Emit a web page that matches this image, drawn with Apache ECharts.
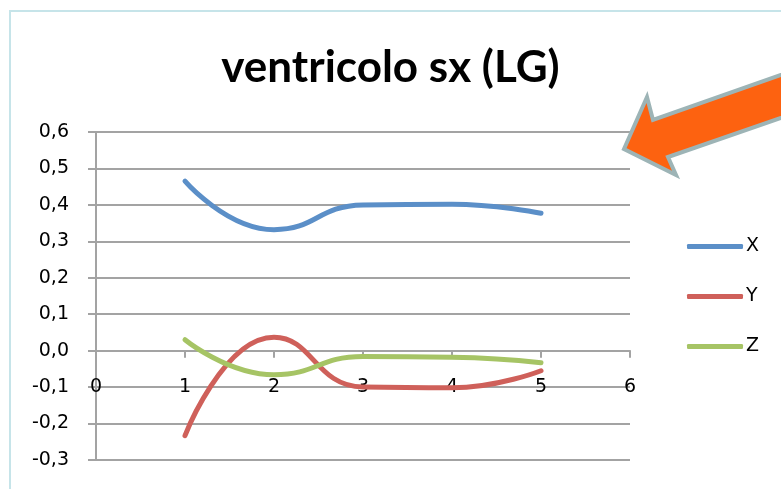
<!DOCTYPE html>
<html>
<head>
<meta charset="utf-8">
<title>ventricolo sx (LG)</title>
<script src="https://cdn.jsdelivr.net/npm/echarts@6/dist/echarts.min.js"></script>
<style>
  html, body { margin: 0; padding: 0; background: #ffffff; }
  #chart { width: 781px; height: 489px; }
</style>
</head>
<body>
<div id="chart"></div>
<script>
// Sample positions along the horizontal axis
const positions = [1, 2, 3, 4, 5];

// Displacement components
const seriesX = [0.465, 0.332, 0.400, 0.402, 0.377];
const seriesY = [-0.233, 0.037, -0.100, -0.102, -0.055];
const seriesZ = [0.030, -0.066, -0.016, -0.018, -0.033];

const seriesNames = ['X', 'Y', 'Z'];
const seriesColors = ['#5B8FC8', '#CF605A', '#A6C465'];

// Value-axis range
const Y_MIN = -0.3, Y_MAX = 0.6, Y_STEP = 0.1;
const X_MIN = 0, X_MAX = 6, X_STEP = 1;

const FONT = 'DejaVu Sans';
const TITLE_FONT = 'Lato';
const GRID_GRAY = '#a3a3a3';

const GRID = { left: 96, right: 151, top: 132, bottom: 29 };
const CHART_H = 489;
const plotHeight = CHART_H - GRID.top - GRID.bottom;
// lift the horizontal axis from the plot bottom up to the y = 0 line
const zeroOffset = -plotHeight * (0 - Y_MIN) / (Y_MAX - Y_MIN);

function pairs(values) {
  return positions.map((p, i) => [p, values[i]]);
}

function lineSeries(name, values, color) {
  return {
    name: name,
    type: 'line',
    data: pairs(values),
    smooth: 0.5,
    symbol: 'none',
    color: color,
    lineStyle: { width: 5, color: color, cap: 'round', join: 'round' },
    emphasis: { disabled: true }
  };
}

const chart = echarts.init(document.getElementById('chart'), null, { renderer: 'canvas' });

chart.setOption({
  backgroundColor: '#ffffff',
  animation: false,
  title: {
    text: 'ventricolo sx (LG)',
    left: 'center',
    top: 41,
    padding: [5, 0, 5, 39],
    textStyle: {
      fontFamily: TITLE_FONT,
      fontWeight: 'bold',
      fontSize: 44,
      color: '#000000'
    }
  },
  legend: {
    data: seriesNames,
    orient: 'vertical',
    left: 682,
    top: 232,
    itemWidth: 56,
    itemHeight: 5,
    itemGap: 31,
    icon: 'roundRect',
    itemStyle: { borderWidth: 0 },
    textStyle: { fontFamily: FONT, fontSize: 19, color: '#000000', padding: [0, 0, 0, -2] }
  },
  grid: {
    left: GRID.left,
    right: GRID.right,
    top: GRID.top,
    bottom: GRID.bottom,
    outerBoundsMode: 'none',
    containLabel: false
  },
  xAxis: {
    type: 'value',
    min: X_MIN,
    max: X_MAX,
    interval: X_STEP,
    position: 'bottom',
    offset: zeroOffset,
    axisLine: { show: true, onZero: false, lineStyle: { color: GRID_GRAY, width: 2 } },
    axisTick: { show: true, inside: false, length: 7, lineStyle: { color: GRID_GRAY, width: 2 } },
    axisLabel: { margin: 27, fontFamily: FONT, fontSize: 19, color: '#000000' },
    splitLine: { show: false }
  },
  yAxis: {
    type: 'value',
    min: Y_MIN,
    max: Y_MAX,
    interval: Y_STEP,
    axisLine: { show: true, onZero: false, lineStyle: { color: GRID_GRAY, width: 2 } },
    axisTick: { show: true, inside: false, length: 8, lineStyle: { color: GRID_GRAY, width: 2 } },
    axisLabel: {
      margin: 27,
      fontFamily: FONT,
      fontSize: 19,
      color: '#000000',
      formatter: v => v.toFixed(1).replace('.', ',')
    },
    splitLine: { show: true, lineStyle: { color: GRID_GRAY, width: 2 } }
  },
  series: [
    lineSeries(seriesNames[0], seriesX, seriesColors[0]),
    lineSeries(seriesNames[1], seriesY, seriesColors[1]),
    lineSeries(seriesNames[2], seriesZ, seriesColors[2])
  ],
  graphic: [
    {
      // chart area frame
      type: 'rect',
      z: -1,
      shape: { x: 10, y: 11, width: 820, height: 520 },
      style: { fill: 'none', stroke: '#c6e4e9', lineWidth: 2 }
    },
    {
      // callout arrow pointing at the plot
      type: 'polygon',
      z: 100,
      shape: {
        points: [
          [624, 149], [647, 97], [653, 120], [795, 70],
          [795, 113], [668, 157], [676, 175]
        ]
      },
      style: { fill: '#FD6210', stroke: '#9db4b6', lineWidth: 4, lineJoin: 'miter' }
    }
  ]
});
</script>
</body>
</html>
